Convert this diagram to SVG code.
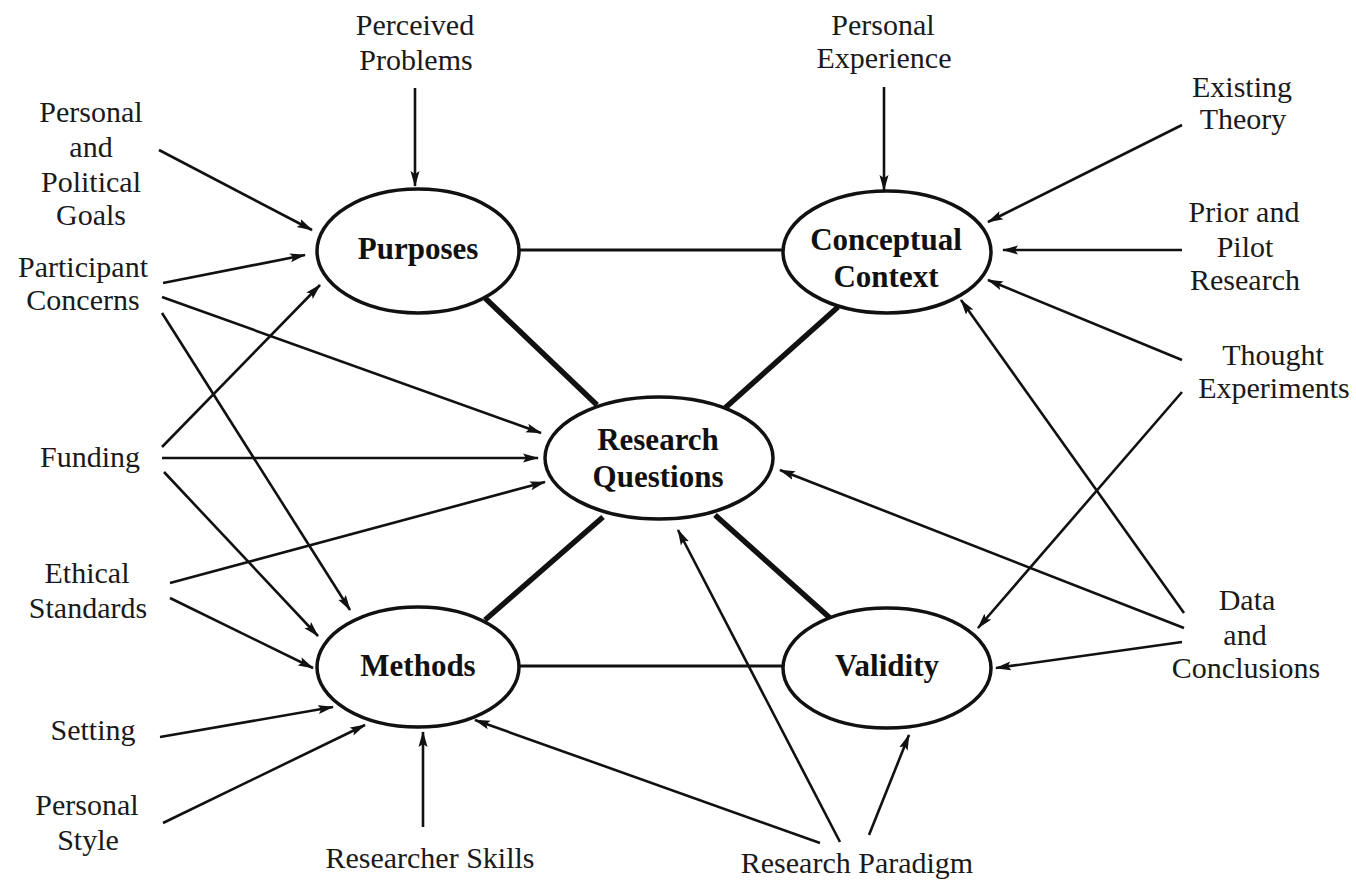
<svg xmlns="http://www.w3.org/2000/svg" width="1356" height="882" viewBox="0 0 1356 882">
<style>
.lbl{font-family:"Liberation Serif","Times New Roman",serif;font-size:30px;fill:#1a1a1a;text-anchor:middle}
.node text{font-family:"Liberation Serif","Times New Roman",serif;font-size:31px;font-weight:bold;fill:#111;text-anchor:middle}
.node ellipse{fill:#fff;stroke:#111;stroke-width:3.5}
.arr{stroke:#111;stroke-width:2.6;fill:none;marker-end:url(#ah)}
.thin{stroke:#111;stroke-width:3;fill:none}
.thick{stroke:#111;stroke-width:5.5;fill:none}
</style>
<defs>
<marker id="ah" markerUnits="userSpaceOnUse" markerWidth="16" markerHeight="10" refX="15" refY="5" orient="auto">
<path d="M0,0.5 L16,5 L0,9.5 L3,5 z" fill="#111"/>
</marker>
</defs>
<rect width="1356" height="882" fill="#fff"/>
<g id="connectors">
<line class="thin" x1="520" y1="250" x2="783" y2="250"/>
<line class="thin" x1="520" y1="666" x2="783" y2="666"/>
<line class="thick" x1="597" y1="405" x2="485" y2="298"/>
<line class="thick" x1="725" y1="408" x2="838" y2="307"/>
<line class="thick" x1="603" y1="517" x2="485" y2="620"/>
<line class="thick" x1="715" y1="515" x2="830" y2="618"/>
<line class="arr" x1="415" y1="88" x2="415" y2="186"/>
<line class="arr" x1="884" y1="87" x2="884" y2="190"/>
<line class="arr" x1="159" y1="150" x2="312" y2="230"/>
<line class="arr" x1="163" y1="283" x2="305" y2="255"/>
<line class="arr" x1="162" y1="297" x2="541" y2="433"/>
<line class="arr" x1="162" y1="313" x2="350" y2="610"/>
<line class="arr" x1="162" y1="447" x2="320" y2="285"/>
<line class="arr" x1="162" y1="458" x2="538" y2="458"/>
<line class="arr" x1="164" y1="472" x2="318" y2="636"/>
<line class="arr" x1="170" y1="583" x2="545" y2="482"/>
<line class="arr" x1="170" y1="598" x2="313" y2="668"/>
<line class="arr" x1="160" y1="737" x2="333" y2="707"/>
<line class="arr" x1="163" y1="823" x2="365" y2="725"/>
<line class="arr" x1="423" y1="827" x2="423" y2="732"/>
<line class="arr" x1="820" y1="843" x2="475" y2="720"/>
<line class="arr" x1="840" y1="842" x2="678" y2="530"/>
<line class="arr" x1="869" y1="835" x2="909" y2="735"/>
<line class="arr" x1="1182" y1="125" x2="988" y2="222"/>
<line class="arr" x1="1182" y1="250" x2="1003" y2="250"/>
<line class="arr" x1="1182" y1="360" x2="988" y2="280"/>
<line class="arr" x1="1182" y1="392" x2="978" y2="628"/>
<line class="arr" x1="1184" y1="613" x2="961" y2="300"/>
<line class="arr" x1="1184" y1="628" x2="780" y2="470"/>
<line class="arr" x1="1182" y1="642" x2="996" y2="668"/>
</g>
<g id="node-purposes" class="node">
<ellipse cx="418" cy="251" rx="101" ry="62"/>
<text x="418" y="259">Purposes</text>
</g>
<g id="node-conceptual-context" class="node">
<ellipse cx="887" cy="252" rx="104" ry="61"/>
<text x="886" y="250">Conceptual</text>
<text x="886" y="287">Context</text>
</g>
<g id="node-research-questions" class="node">
<ellipse cx="659" cy="458" rx="114" ry="61"/>
<text x="658" y="450">Research</text>
<text x="658" y="487">Questions</text>
</g>
<g id="node-methods" class="node">
<ellipse cx="418" cy="667" rx="101" ry="60"/>
<text x="418" y="676">Methods</text>
</g>
<g id="node-validity" class="node">
<ellipse cx="887" cy="668" rx="104" ry="60"/>
<text x="887" y="676">Validity</text>
</g>
<g id="label-perceived-problems"><text class="lbl" x="415" y="35">Perceived</text><text class="lbl" x="416" y="70">Problems</text></g>
<g id="label-personal-experience"><text class="lbl" x="883" y="35">Personal</text><text class="lbl" x="884" y="68">Experience</text></g>
<g id="label-personal-political-goals"><text class="lbl" x="91" y="122">Personal</text><text class="lbl" x="91" y="157">and</text><text class="lbl" x="91" y="192">Political</text><text class="lbl" x="91" y="225">Goals</text></g>
<g id="label-participant-concerns"><text class="lbl" x="83" y="277">Participant</text><text class="lbl" x="83" y="310">Concerns</text></g>
<g id="label-funding"><text class="lbl" x="90" y="467">Funding</text></g>
<g id="label-ethical-standards"><text class="lbl" x="87" y="583">Ethical</text><text class="lbl" x="88" y="618">Standards</text></g>
<g id="label-setting"><text class="lbl" x="93" y="740">Setting</text></g>
<g id="label-personal-style"><text class="lbl" x="87" y="815">Personal</text><text class="lbl" x="88" y="850">Style</text></g>
<g id="label-researcher-skills"><text class="lbl" x="430" y="868">Researcher Skills</text></g>
<g id="label-research-paradigm"><text class="lbl" x="857" y="873">Research Paradigm</text></g>
<g id="label-existing-theory"><text class="lbl" x="1242" y="97">Existing</text><text class="lbl" x="1243" y="129">Theory</text></g>
<g id="label-prior-pilot-research"><text class="lbl" x="1244" y="222">Prior and</text><text class="lbl" x="1245" y="257">Pilot</text><text class="lbl" x="1245" y="290">Research</text></g>
<g id="label-thought-experiments"><text class="lbl" x="1273" y="365">Thought</text><text class="lbl" x="1274" y="398">Experiments</text></g>
<g id="label-data-conclusions"><text class="lbl" x="1247" y="610">Data</text><text class="lbl" x="1245" y="645">and</text><text class="lbl" x="1246" y="678">Conclusions</text></g>
</svg>
